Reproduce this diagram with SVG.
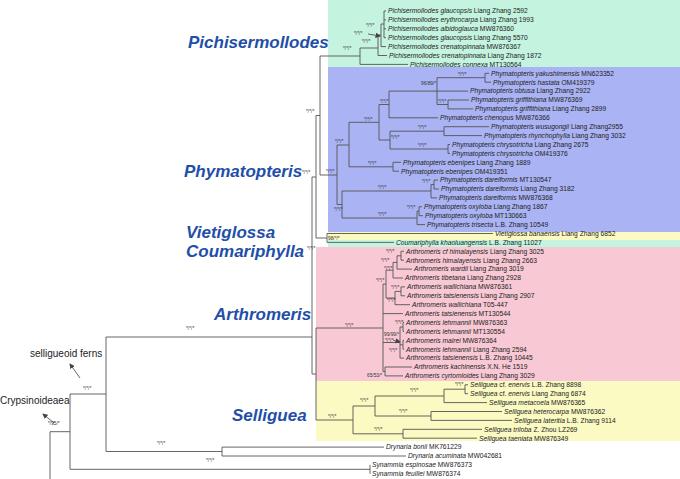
<svg xmlns="http://www.w3.org/2000/svg" width="680" height="479" viewBox="0 0 680 479">
<style>
.bg{stroke:none}
.e{fill:none;stroke:#555;stroke-width:0.9}
.lf{font-family:"Liberation Sans",Arial,sans-serif;font-size:6.7px;fill:#222}
.i{font-style:italic}
.bs{font-family:"Liberation Sans",Arial,sans-serif;font-size:4.8px;fill:#333}
.cl{font-family:"Liberation Sans",Arial,sans-serif;font-size:17px;font-weight:bold;font-style:italic;fill:#1f4fa8}
.gr{font-family:"Liberation Sans",Arial,sans-serif;font-size:10px;fill:#222}
</style>
<defs><marker id="ah" markerWidth="6" markerHeight="6" refX="5" refY="3" orient="auto"><path d="M0,0 L6,3 L0,6 z" fill="#444"/></marker></defs>
<rect width="680" height="479" fill="#fff"/>
<g id="panels">
<rect class="bg" x="328" y="0" width="352" height="67" fill="#c4f3df"/>
<rect class="bg" x="328" y="67" width="352" height="165" fill="#aab3f3"/>
<rect class="bg" x="328" y="232" width="352" height="8" fill="#fafac2"/>
<rect class="bg" x="328" y="240" width="352" height="7" fill="#c4f3df"/>
<rect class="bg" x="316" y="247" width="364" height="134" fill="#f8c9d5"/>
<rect class="bg" x="316" y="381" width="364" height="60" fill="#fafac2"/>
</g>
<g id="clade-labels">
<text class="cl" x="188" y="48">Pichisermollodes</text>
<text class="cl" x="184" y="177">Phymatopteris</text>
<text class="cl" x="186" y="238">Vietiglossa</text>
<text class="cl" x="186" y="257">Coumariphylla</text>
<text class="cl" x="214" y="320">Arthromeris</text>
<text class="cl" x="232" y="421">Selliguea</text>
<text class="gr" x="30" y="357">selligueoid ferns</text>
<text class="gr" x="0" y="404">Crypsinoideaea</text>
</g>
<g id="connectors">
<path class="e" d="M50,479 V431.7 H70 M70,394 V469.3 M70,394 H106 M106,337 V451.5 M70,469.3 H370 M370,464.9 V473.8 M106,451.5 H222 M222,447.1 V456 M106,337 H312"/>
<path class="e" d="M312,177 V374 M312,177 H316 M316,115.5 V238 M316,238 H327 M327,233.5 V242.4 M316,115.5 H320 M320,56 V175 M320,56 H360 M320,175 H337 M312,374 H316 M316,328 V420 M316,328 H383 M316,420 H353"/>
<path class="e" d="M360,48 V64.4 M360,48 H378 M378,35 V55.5 M378,35 H381 M381,24 V46.6 M381,24 H384 M384,11 V37.7"/>
<path class="e" d="M337,145 V204.5 M337,145 H349 M337,204.5 H342 M349,122.3 V166.8 M349,122.3 H379 M349,166.8 H393 M393,162.3 V171.2 M379,104.5 V140 M379,104.5 H389 M379,140 H390 M389,91.1 V117.8 M437,77.7 V104.5 M437,77.7 H485 M485,73.3 V82.2 M437,104.5 H448 M448,100 V108.9 M390,131.2 V149 M390,131.2 H444 M444,126.7 V135.6 M390,149 H448 M448,144.5 V153.4 M342,191 V218 M342,191 H431 M431,184.5 V197.9 M431,184.5 H434 M434,180.1 V189 M342,218 H417 M417,211.2 V224.6 M417,211.2 H419 M419,206.8 V215.7"/>
<path class="e" d="M383,284.1 V371.5 M383,284.1 H386 M386,270.2 V298 M386,270.2 H393 M393,262.4 V278 M393,262.4 H397 M397,255.8 V269.1 M397,255.8 H401 M401,251.3 V260.2 M386,298 H395 M395,291.4 V304.7 M395,291.4 H401 M401,286.9 V295.8 M383,342.5 H400 M400,327 V358.1 M400,327 H403 M403,322.5 V331.4 M400,344.8 H403 M403,340.3 V349.2 M383,371.5 H385 M385,367 V375.9"/>
<path class="e" d="M353,406 V433.8 M353,406 H375 M375,396 V416 M375,396 H444 M444,389.2 V402.6 M444,389.2 H465 M465,384.8 V393.7 M375,416 H431 M431,411.5 V420.4 M353,433.8 H403 M403,429.3 V438.2"/>
<path class="e" d="M384,11 H386 M384,19.9 H386 M384,28.8 H386 M384,37.7 H386 M381,46.6 H386 M378,55.5 H387 M360,64.4 H408
M485,73.3 H489 M485,82.2 H491 M389,91.1 H468 M448,100 H469 M448,108.9 H473 M389,117.8 H438 M444,126.7 H489 M444,135.6 H482 M448,144.5 H450 M448,153.4 H450 M393,162.3 H401 M393,171.2 H399 M434,180.1 H438 M434,189 H439 M431,197.9 H437 M419,206.8 H422 M419,215.7 H423 M417,224.6 H425 M327,233.5 H493 M327,242.4 H394
M401,251.3 H404 M401,260.2 H404 M397,269.1 H412 M393,278 H403 M401,286.9 H405 M401,295.8 H405 M395,304.7 H410 M383,313.6 H403 M403,322.5 H404 M403,331.4 H404 M403,340.3 H404 M403,349.2 H404 M400,358.1 H404 M385,367 H412 M385,375.9 H403
M465,384.8 H468 M465,393.7 H468 M444,402.6 H487 M431,411.5 H502 M431,420.4 H512 M403,429.3 H482 M403,438.2 H477 M222,447.1 H384 M222,456 H406"/>
<path class="e" d="M80,378 L70,364" marker-end="url(#ah)"/>
<path class="e" d="M54,423 L43,414" marker-end="url(#ah)"/>
<path class="e" d="M368,34 L380,36" marker-end="url(#ah)"/>
<path class="e" d="M393,340 L400,342" marker-end="url(#ah)"/>
</g>
<g id="support">
<text class="bs" x="343" y="50">*/*/*</text>
<text class="bs" x="366" y="27">*/*/*</text>
<text class="bs" x="354" y="35">*/*/*</text>
<text class="bs" x="362" y="43">*/*/*</text>
<text class="bs" x="458" y="76">*/*/*</text>
<text class="bs" x="421" y="85">96/89/*</text>
<text class="bs" x="380" y="103">*/*/*</text>
<text class="bs" x="364" y="121">*/*/*</text>
<text class="bs" x="438" y="103">*/*/*</text>
<text class="bs" x="335" y="143">*/*/*</text>
<text class="bs" x="326" y="173">*/*/*</text>
<text class="bs" x="391" y="139">*/*/*</text>
<text class="bs" x="418" y="129">*/*/*</text>
<text class="bs" x="418" y="147">*/*/*</text>
<text class="bs" x="368" y="165">*/*/*</text>
<text class="bs" x="334" y="211">*/*/*</text>
<text class="bs" x="378" y="189">*/*/*</text>
<text class="bs" x="422" y="183">*/*/*</text>
<text class="bs" x="378" y="216">*/*/*</text>
<text class="bs" x="407" y="209">*/*/*</text>
<text class="bs" x="302" y="174">*/*/*</text>
<text class="bs" x="306" y="113">*/*/*</text>
<text class="bs" x="307" y="250">*/*/*</text>
<text class="bs" x="328" y="240">98/*/*</text>
<text class="bs" x="345" y="327">*/*/*</text>
<text class="bs" x="376" y="282">*/*/*</text>
<text class="bs" x="386" y="253">*/*/*</text>
<text class="bs" x="381" y="262">*/*/*</text>
<text class="bs" x="384" y="270">*/*/*</text>
<text class="bs" x="391" y="289">*/*/*</text>
<text class="bs" x="387" y="302">*/*/*</text>
<text class="bs" x="395" y="324">*/*/*</text>
<text class="bs" x="384" y="336">99/99/*</text>
<text class="bs" x="385" y="342">*/*/*</text>
<text class="bs" x="389" y="352">*/*/*</text>
<text class="bs" x="367" y="377">65/53/*</text>
<text class="bs" x="328" y="418">*/*/*</text>
<text class="bs" x="360" y="402">*/*/*</text>
<text class="bs" x="410" y="392">*/*/*</text>
<text class="bs" x="455" y="386">*/*/*</text>
<text class="bs" x="399" y="413">*/*/*</text>
<text class="bs" x="374" y="431">*/*/*</text>
<text class="bs" x="186" y="330">*/*/*</text>
<text class="bs" x="157" y="445">*/*/*</text>
<text class="bs" x="206" y="462">*/*/*</text>
<text class="bs" x="48" y="425">*/95/*</text>
<text class="bs" x="83" y="390">*/*/*</text>
</g>
<g id="leaves">
<text class="lf" x="388" y="13.3"><tspan class="i">Pichisermollodes glaucopsis</tspan> Liang Zhang 2592</text>
<text class="lf" x="388" y="22.2"><tspan class="i">Pichisermollodes erythrocarpa</tspan> Liang Zhang 1993</text>
<text class="lf" x="388" y="31.1"><tspan class="i">Pichisermollodes albidoglauca</tspan> MW876360</text>
<text class="lf" x="388" y="40"><tspan class="i">Pichisermollodes glaucopsis</tspan> Liang Zhang 5570</text>
<text class="lf" x="388" y="48.9"><tspan class="i">Pichisermollodes crenatopinnata</tspan> MW876367</text>
<text class="lf" x="389" y="57.8"><tspan class="i">Pichisermollodes crenatopinnata</tspan> Liang Zhang 1872</text>
<text class="lf" x="410" y="66.7"><tspan class="i">Pichisermollodes connexa</tspan> MT130564</text>
<text class="lf" x="491" y="75.6"><tspan class="i">Phymatopteris yakushimensis</tspan> MN623352</text>
<text class="lf" x="493" y="84.5"><tspan class="i">Phymatopteris hastata</tspan> OM419379</text>
<text class="lf" x="470" y="93.4"><tspan class="i">Phymatopteris obtusa</tspan> Liang Zhang 2922</text>
<text class="lf" x="471" y="102.3"><tspan class="i">Phymatopteris griffithiana</tspan> MW876369</text>
<text class="lf" x="475" y="111.2"><tspan class="i">Phymatopteris griffithiana</tspan> Liang Zhang 2899</text>
<text class="lf" x="440" y="120.1"><tspan class="i">Phymatopteris chenopus</tspan> MW876366</text>
<text class="lf" x="491" y="129"><tspan class="i">Phymatopteris wusugongii</tspan> Liang Zhang2955</text>
<text class="lf" x="484" y="137.9"><tspan class="i">Phymatopteris rhynchophylla</tspan> Liang Zhang 3032</text>
<text class="lf" x="452" y="146.8"><tspan class="i">Phymatopteris chrysotricha</tspan> Liang Zhang 2675</text>
<text class="lf" x="452" y="155.7"><tspan class="i">Phymatopteris chrysotricha</tspan> OM419376</text>
<text class="lf" x="403" y="164.6"><tspan class="i">Phymatopteris ebenipes</tspan> Liang Zhang 1889</text>
<text class="lf" x="401" y="173.5"><tspan class="i">Phymatopteris ebenipes</tspan> OM419351</text>
<text class="lf" x="440" y="182.4"><tspan class="i">Phymatopteris dareiformis</tspan> MT130547</text>
<text class="lf" x="441" y="191.3"><tspan class="i">Phymatopteris dareiformis</tspan> Liang Zhang 3182</text>
<text class="lf" x="439" y="200.2"><tspan class="i">Phymatopteris dareiformis</tspan> MW876368</text>
<text class="lf" x="424" y="209.1"><tspan class="i">Phymatopteris oxyloba</tspan> Liang Zhang 1867</text>
<text class="lf" x="425" y="218"><tspan class="i">Phymatopteris oxyloba</tspan> MT130663</text>
<text class="lf" x="427" y="226.9"><tspan class="i">Phymatopteris trisecta</tspan> L.B. Zhang 10549</text>
<text class="lf" x="495" y="235.8"><tspan class="i">Vietiglossa banaensis</tspan> Liang Zhang 6852</text>
<text class="lf" x="396" y="244.7"><tspan class="i">Coumariphylla khaoluangensis</tspan> L.B. Zhang 11027</text>
<text class="lf" x="406" y="253.6"><tspan class="i">Arthromeris cf himalayensis</tspan> Liang Zhang 3025</text>
<text class="lf" x="406" y="262.5"><tspan class="i">Arthromeris himalayensis</tspan> Liang Zhang 2663</text>
<text class="lf" x="414" y="271.4"><tspan class="i">Arthromeris wardii</tspan> Liang Zhang 3019</text>
<text class="lf" x="405" y="280.3"><tspan class="i">Arthromeris tibetana</tspan> Liang Zhang 2928</text>
<text class="lf" x="407" y="289.2"><tspan class="i">Arthromeris wallichiana</tspan> MW876361</text>
<text class="lf" x="407" y="298.1"><tspan class="i">Arthromeris tatsienensis</tspan> Liang Zhang 2907</text>
<text class="lf" x="412" y="307"><tspan class="i">Arthromeris wallichiana</tspan> T05-447</text>
<text class="lf" x="405" y="315.9"><tspan class="i">Arthromeris tatsienensis</tspan> MT130544</text>
<text class="lf" x="406" y="324.8"><tspan class="i">Arthromeris lehmannii</tspan> MW876363</text>
<text class="lf" x="406" y="333.7"><tspan class="i">Arthromeris lehmannii</tspan> MT130554</text>
<text class="lf" x="406" y="342.6"><tspan class="i">Arthromeris mairei</tspan> MW876364</text>
<text class="lf" x="406" y="351.5"><tspan class="i">Arthromeris lehmannii</tspan> Liang Zhang 2594</text>
<text class="lf" x="406" y="360.4"><tspan class="i">Arthromeris tatsienensis</tspan> L.B. Zhang 10445</text>
<text class="lf" x="414" y="369.3"><tspan class="i">Arthromeris kachinensis</tspan> X.N. He 1519</text>
<text class="lf" x="405" y="378.2"><tspan class="i">Arthromeris cyrtomioides</tspan> Liang Zhang 3029</text>
<text class="lf" x="470" y="387.1"><tspan class="i">Selliguea</tspan> cf. <tspan class="i">enervis</tspan>  L.B. Zhang 8898</text>
<text class="lf" x="470" y="396"><tspan class="i">Selliguea</tspan> cf. <tspan class="i">enervis</tspan>  Liang Zhang 6874</text>
<text class="lf" x="489" y="404.9"><tspan class="i">Selliguea metacoela</tspan> MW876365</text>
<text class="lf" x="504" y="413.8"><tspan class="i">Selliguea heterocarpa</tspan> MW876362</text>
<text class="lf" x="514" y="422.7"><tspan class="i">Selliguea lateritia</tspan> L.B. Zhang 9114</text>
<text class="lf" x="484" y="431.6"><tspan class="i">Selliguea triloba</tspan> Z. Zhou LZ269</text>
<text class="lf" x="479" y="440.5"><tspan class="i">Selliguea taeniata</tspan> MW876349</text>
<text class="lf" x="386" y="449.4"><tspan class="i">Drynaria bonii</tspan> MK761229</text>
<text class="lf" x="408" y="458.3"><tspan class="i">Drynaria acuminata</tspan> MW042681</text>
<text class="lf" x="372" y="467.2"><tspan class="i">Synammia espinosae</tspan> MW876373</text>
<text class="lf" x="372" y="476.1"><tspan class="i">Synammia feuillei</tspan> MW876374</text>
</g>
</svg>
